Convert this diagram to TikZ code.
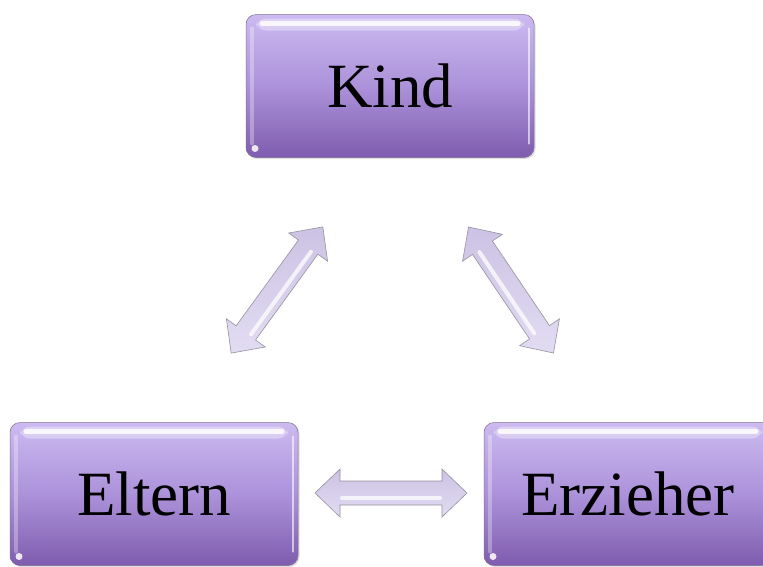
\documentclass[tikz,border=0pt]{standalone}
\usepackage{fontspec}
\setmainfont{Liberation Serif}
\usetikzlibrary{shadows}
\definecolor{boxtop}{RGB}{204,186,240}
\definecolor{boxmid}{RGB}{172,146,218}
\definecolor{boxbot}{RGB}{126,92,174}
\definecolor{boxedge}{RGB}{130,112,150}
\definecolor{arrfill}{RGB}{226,220,242}
\definecolor{arrdark}{RGB}{204,194,228}
\definecolor{arredge}{RGB}{150,144,158}
\tikzset{
  box/.style={rounded corners=10pt, top color=boxtop, bottom color=boxbot, middle color=boxmid,
    draw=boxedge, line width=0.5pt, minimum width=288pt, minimum height=143pt, inner sep=0pt,
    font=\fontsize{63}{70}\selectfont, text=black,
    drop shadow={opacity=0.25, shadow xshift=1.5pt, shadow yshift=-1.5pt},
    path picture={
      \fill[white, opacity=0.35]
        ([xshift=10pt,yshift=-4pt]path picture bounding box.north west) rectangle
        ([xshift=-10pt,yshift=-16pt]path picture bounding box.north east);
      \draw[white, line width=5pt, opacity=0.85, line cap=round]
        ([xshift=16pt,yshift=-9pt]path picture bounding box.north west) --
        ([xshift=-16pt,yshift=-9pt]path picture bounding box.north east);
      \draw[white, line width=4pt, opacity=0.3, line cap=round]
        ([xshift=6pt,yshift=-14pt]path picture bounding box.north west) --
        ([xshift=6pt,yshift=14pt]path picture bounding box.south west);
      \draw[white, line width=2.5pt, opacity=0.6, line cap=round]
        ([xshift=-5pt,yshift=-14pt]path picture bounding box.north east) --
        ([xshift=-5pt,yshift=14pt]path picture bounding box.south east);
      \fill[white, opacity=0.85] ([xshift=9pt,yshift=9pt]path picture bounding box.south west) circle (3.5pt);
    }},
  arrowbody/.style={top color=arrdark, bottom color=arrfill, draw=arredge, line width=0.6pt, line join=miter},
  arrowgloss/.style={draw=white, line width=4pt, opacity=0.75, line cap=round}
}
% \blockarrow{center}{angle}{length}
\newcommand\blockarrow[3]{%
  \begin{scope}[shift={#1}, rotate=#2]
    \pgfmathsetmacro\hl{#3/2}
    \pgfmathsetmacro\hb{#3/2-25}
    \path[arrowbody] (-\hl,0) -- (-\hb,24) -- (-\hb,12) -- (\hb,12) -- (\hb,24) -- (\hl,0)
      -- (\hb,-24) -- (\hb,-12) -- (-\hb,-12) -- (-\hb,-24) -- cycle;
    \draw[arrowgloss] (-\hb+2,5) -- (\hb-2,5);
  \end{scope}}
\begin{document}
\begin{tikzpicture}[x=1pt, y=-1pt]
  \useasboundingbox (0,0) rectangle (763,566);
  \clip (0,0) rectangle (763,566);
  \node[box] (kind) at (390,86) {Kind};
  \node[box] (eltern) at (154,494) {Eltern};
  \node[box] (erzieher) at (628,494) {Erzieher};
  \blockarrow{(277,290)}{54}{156}
  \blockarrow{(511,290)}{-56}{152}
  \blockarrow{(391,493)}{0}{152}
\end{tikzpicture}
\end{document}
